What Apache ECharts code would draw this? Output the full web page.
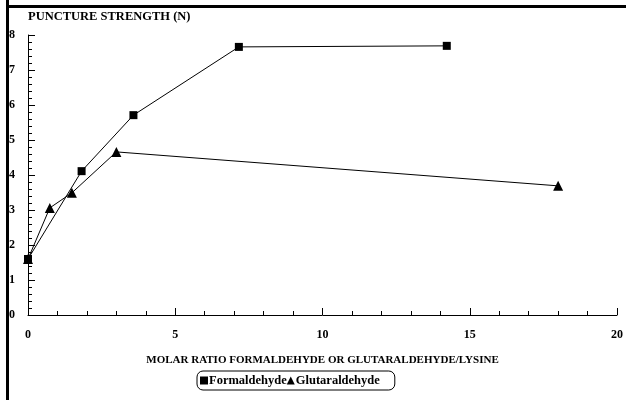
<!DOCTYPE html>
<html><head><meta charset="utf-8">
<script src="https://cdn.jsdelivr.net/npm/echarts@6/dist/echarts.min.js"></script>
<style>html,body{margin:0;padding:0;background:#fff}#c{width:626px;height:400px}</style>
</head><body><div id="c"></div>
<script>
const formX = [0, 1.82, 3.58, 7.16, 14.22];
const formY = [1.6, 4.11, 5.71, 7.66, 7.69];
const glutX = [0, 0.74, 1.49, 3.0, 18.0];
const glutY = [1.6, 3.06, 3.49, 4.66, 3.69];
const yTitle = 'PUNCTURE STRENGTH (N)';
const xTitle = 'MOLAR RATIO FORMALDEHYDE OR GLUTARALDEHYDE/LYSINE';
const seriesNames = ['Formaldehyde', 'Glutaraldehyde'];

const font = 'Liberation Serif';
const chart = echarts.init(document.getElementById('c'));
chart.setOption({
  animation: false,
  backgroundColor: '#fff',
  graphic: [
    {type: 'rect', shape: {x: 6, y: 0, width: 3, height: 400}, style: {fill: '#000'}, z: 100},
    {type: 'rect', shape: {x: 6, y: 5, width: 620, height: 3}, style: {fill: '#000'}, z: 100}
  ],
  grid: {left: 28, right: 6, top: 35, bottom: 85, containLabel: false},
  legend: {
    bottom: 10, left: 197,
    data: [{name: seriesNames[0], icon: 'rect'}, {name: seriesNames[1], icon: 'triangle'}],
    itemWidth: 8, itemHeight: 8, itemGap: 0,
    padding: [3, 15, 3, 3],
    borderColor: '#000', borderWidth: 1, borderRadius: 6,
    textStyle: {fontFamily: font, fontWeight: 'bold', fontSize: 12.5, color: '#000', padding: [0, 0, 0, -4]}
  },
  xAxis: {
    type: 'value', min: 0, max: 20, interval: 5,
    name: xTitle, nameLocation: 'middle', nameGap: 40,
    nameTextStyle: {fontFamily: font, fontWeight: 'bold', fontSize: 11, color: '#000'},
    axisLine: {lineStyle: {color: '#000', width: 1}},
    axisTick: {inside: true, length: 7, lineStyle: {color: '#000'}},
    minorTick: {show: true, splitNumber: 5, length: 4, lineStyle: {color: '#000'}},
    axisLabel: {fontFamily: font, fontWeight: 'bold', fontSize: 12, color: '#000', margin: 14},
    splitLine: {show: false}
  },
  yAxis: {
    type: 'value', min: 0, max: 8, interval: 1,
    name: yTitle, nameLocation: 'end', nameGap: 12,
    nameTextStyle: {fontFamily: font, fontWeight: 'bold', fontSize: 12.5, color: '#000', align: 'left'},
    axisLine: {show: true, lineStyle: {color: '#000', width: 1}},
    axisTick: {show: true, inside: true, length: 7, lineStyle: {color: '#000'}},
    minorTick: {show: true, splitNumber: 5, length: 4, lineStyle: {color: '#000'}},
    axisLabel: {fontFamily: font, fontWeight: 'bold', fontSize: 12, color: '#000', margin: 13},
    splitLine: {show: false}
  },
  series: [
    {name: seriesNames[0], type: 'line', data: formX.map((x, i) => [x, formY[i]]),
     symbol: 'rect', symbolSize: 8, itemStyle: {color: '#000'}, lineStyle: {color: '#000', width: 1}, z: 3},
    {name: seriesNames[1], type: 'line', data: glutX.map((x, i) => [x, glutY[i]]),
     symbol: 'triangle', symbolSize: 10, itemStyle: {color: '#000'}, lineStyle: {color: '#000', width: 1}, z: 2}
  ]
});
</script></body></html>
